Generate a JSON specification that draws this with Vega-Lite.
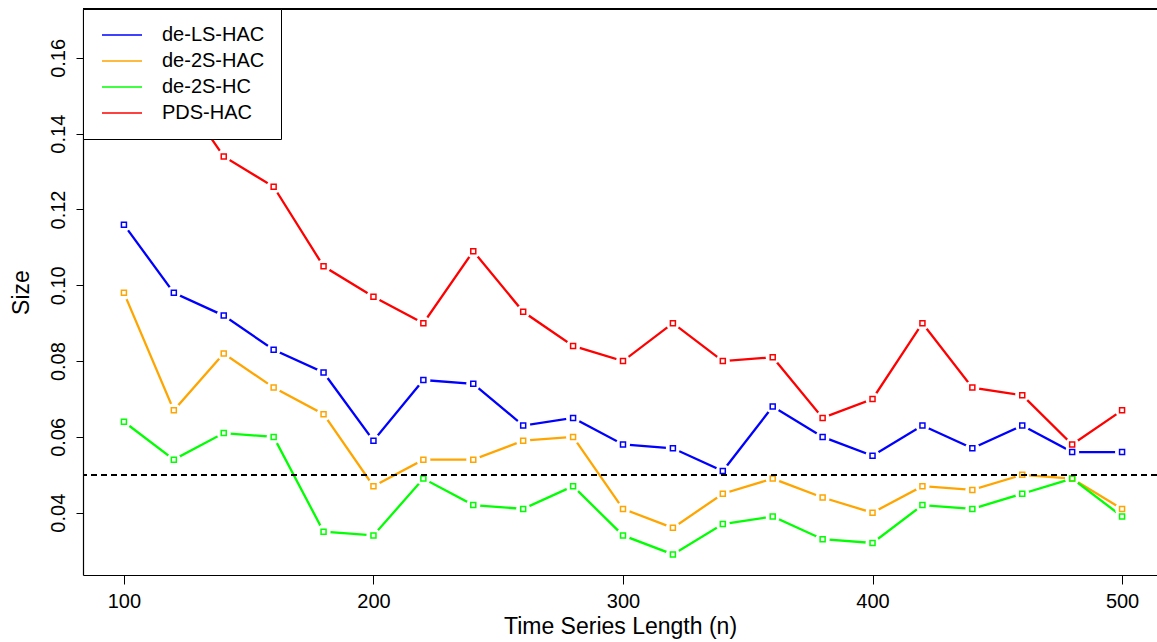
{
  "$schema": "https://vega.github.io/schema/vega-lite/v6.json",
  "autosize": "none",
  "width": 1074,
  "height": 566,
  "padding": {"left": 83, "top": 9, "right": 0, "bottom": 67},
  "background": "white",
  "config": {
    "font": "Liberation Sans",
    "view": {"stroke": null},
    "axis": {"grid": false, "domain": true, "domainColor": "black", "domainWidth": 1.2, "tickColor": "black", "labelColor": "black", "titleColor": "black", "labelFont": "Liberation Sans", "titleFont": "Liberation Sans", "titleFontWeight": "normal"}
  },
  "data": {
    "values": [
      {"n": 100, "method": "de-LS-HAC", "size": 0.116},
      {"n": 120, "method": "de-LS-HAC", "size": 0.098},
      {"n": 140, "method": "de-LS-HAC", "size": 0.092},
      {"n": 160, "method": "de-LS-HAC", "size": 0.083},
      {"n": 180, "method": "de-LS-HAC", "size": 0.077},
      {"n": 200, "method": "de-LS-HAC", "size": 0.059},
      {"n": 220, "method": "de-LS-HAC", "size": 0.075},
      {"n": 240, "method": "de-LS-HAC", "size": 0.074},
      {"n": 260, "method": "de-LS-HAC", "size": 0.063},
      {"n": 280, "method": "de-LS-HAC", "size": 0.065},
      {"n": 300, "method": "de-LS-HAC", "size": 0.058},
      {"n": 320, "method": "de-LS-HAC", "size": 0.057},
      {"n": 340, "method": "de-LS-HAC", "size": 0.051},
      {"n": 360, "method": "de-LS-HAC", "size": 0.068},
      {"n": 380, "method": "de-LS-HAC", "size": 0.060},
      {"n": 400, "method": "de-LS-HAC", "size": 0.055},
      {"n": 420, "method": "de-LS-HAC", "size": 0.063},
      {"n": 440, "method": "de-LS-HAC", "size": 0.057},
      {"n": 460, "method": "de-LS-HAC", "size": 0.063},
      {"n": 480, "method": "de-LS-HAC", "size": 0.056},
      {"n": 500, "method": "de-LS-HAC", "size": 0.056},
      {"n": 100, "method": "de-2S-HAC", "size": 0.098},
      {"n": 120, "method": "de-2S-HAC", "size": 0.067},
      {"n": 140, "method": "de-2S-HAC", "size": 0.082},
      {"n": 160, "method": "de-2S-HAC", "size": 0.073},
      {"n": 180, "method": "de-2S-HAC", "size": 0.066},
      {"n": 200, "method": "de-2S-HAC", "size": 0.047},
      {"n": 220, "method": "de-2S-HAC", "size": 0.054},
      {"n": 240, "method": "de-2S-HAC", "size": 0.054},
      {"n": 260, "method": "de-2S-HAC", "size": 0.059},
      {"n": 280, "method": "de-2S-HAC", "size": 0.060},
      {"n": 300, "method": "de-2S-HAC", "size": 0.041},
      {"n": 320, "method": "de-2S-HAC", "size": 0.036},
      {"n": 340, "method": "de-2S-HAC", "size": 0.045},
      {"n": 360, "method": "de-2S-HAC", "size": 0.049},
      {"n": 380, "method": "de-2S-HAC", "size": 0.044},
      {"n": 400, "method": "de-2S-HAC", "size": 0.040},
      {"n": 420, "method": "de-2S-HAC", "size": 0.047},
      {"n": 440, "method": "de-2S-HAC", "size": 0.046},
      {"n": 460, "method": "de-2S-HAC", "size": 0.050},
      {"n": 480, "method": "de-2S-HAC", "size": 0.049},
      {"n": 500, "method": "de-2S-HAC", "size": 0.041},
      {"n": 100, "method": "de-2S-HC", "size": 0.064},
      {"n": 120, "method": "de-2S-HC", "size": 0.054},
      {"n": 140, "method": "de-2S-HC", "size": 0.061},
      {"n": 160, "method": "de-2S-HC", "size": 0.060},
      {"n": 180, "method": "de-2S-HC", "size": 0.035},
      {"n": 200, "method": "de-2S-HC", "size": 0.034},
      {"n": 220, "method": "de-2S-HC", "size": 0.049},
      {"n": 240, "method": "de-2S-HC", "size": 0.042},
      {"n": 260, "method": "de-2S-HC", "size": 0.041},
      {"n": 280, "method": "de-2S-HC", "size": 0.047},
      {"n": 300, "method": "de-2S-HC", "size": 0.034},
      {"n": 320, "method": "de-2S-HC", "size": 0.029},
      {"n": 340, "method": "de-2S-HC", "size": 0.037},
      {"n": 360, "method": "de-2S-HC", "size": 0.039},
      {"n": 380, "method": "de-2S-HC", "size": 0.033},
      {"n": 400, "method": "de-2S-HC", "size": 0.032},
      {"n": 420, "method": "de-2S-HC", "size": 0.042},
      {"n": 440, "method": "de-2S-HC", "size": 0.041},
      {"n": 460, "method": "de-2S-HC", "size": 0.045},
      {"n": 480, "method": "de-2S-HC", "size": 0.049},
      {"n": 500, "method": "de-2S-HC", "size": 0.039},
      {"n": 100, "method": "PDS-HAC", "size": 0.167},
      {"n": 120, "method": "PDS-HAC", "size": 0.153},
      {"n": 140, "method": "PDS-HAC", "size": 0.134},
      {"n": 160, "method": "PDS-HAC", "size": 0.126},
      {"n": 180, "method": "PDS-HAC", "size": 0.105},
      {"n": 200, "method": "PDS-HAC", "size": 0.097},
      {"n": 220, "method": "PDS-HAC", "size": 0.090},
      {"n": 240, "method": "PDS-HAC", "size": 0.109},
      {"n": 260, "method": "PDS-HAC", "size": 0.093},
      {"n": 280, "method": "PDS-HAC", "size": 0.084},
      {"n": 300, "method": "PDS-HAC", "size": 0.080},
      {"n": 320, "method": "PDS-HAC", "size": 0.090},
      {"n": 340, "method": "PDS-HAC", "size": 0.080},
      {"n": 360, "method": "PDS-HAC", "size": 0.081},
      {"n": 380, "method": "PDS-HAC", "size": 0.065},
      {"n": 400, "method": "PDS-HAC", "size": 0.070},
      {"n": 420, "method": "PDS-HAC", "size": 0.090},
      {"n": 440, "method": "PDS-HAC", "size": 0.073},
      {"n": 460, "method": "PDS-HAC", "size": 0.071},
      {"n": 480, "method": "PDS-HAC", "size": 0.058},
      {"n": 500, "method": "PDS-HAC", "size": 0.067}
    ]
  },
  "layer": [
    {
      "mark": {"type": "line", "strokeWidth": 2.3, "clip": true},
      "encoding": {
        "x": {
          "field": "n", "type": "quantitative",
          "scale": {"domain": [83.6, 514.0], "nice": false, "zero": false},
          "axis": {"values": [100, 200, 300, 400, 500], "title": "Time Series Length (n)", "labelFontSize": 20, "titleFontSize": 23, "tickSize": 9, "labelPadding": 7, "titlePadding": 4, "labelFlush": false}
        },
        "y": {
          "field": "size", "type": "quantitative",
          "scale": {"domain": [0.02356, 0.1729], "nice": false, "zero": false},
          "axis": {"values": [0.04, 0.06, 0.08, 0.10, 0.12, 0.14, 0.16], "format": ".2f", "title": "Size", "labelFontSize": 20, "titleFontSize": 23, "tickSize": 7, "labelAngle": 270, "labelAlign": "center", "labelBaseline": "alphabetic", "labelPadding": 12, "titlePadding": 15, "labelFlush": false}
        },
        "color": {
          "field": "method", "type": "nominal",
          "scale": {"domain": ["de-LS-HAC", "de-2S-HAC", "de-2S-HC", "PDS-HAC"], "range": ["#0000ff", "#ffa500", "#00ff00", "#ff0000"]},
          "legend": {"title": null, "orient": "top-left", "offset": 0, "fillColor": "white", "strokeColor": "black", "padding": 16, "labelFontSize": 20, "labelColor": "black", "symbolType": "M-2.5,0H2.5", "symbolSize": 256, "symbolStrokeWidth": 1.5, "rowPadding": 6, "symbolOffset": 13, "labelOffset": 30}
        }
      }
    },
    {
      "mark": {"type": "point", "shape": "circle", "filled": true, "color": "white", "opacity": 1, "size": 200, "clip": true},
      "encoding": {
        "x": {"field": "n", "type": "quantitative"},
        "y": {"field": "size", "type": "quantitative"}
      }
    },
    {
      "mark": {"type": "point", "shape": "square", "filled": false, "size": 25, "strokeWidth": 1.5, "opacity": 1, "clip": true},
      "encoding": {
        "x": {"field": "n", "type": "quantitative"},
        "y": {"field": "size", "type": "quantitative"},
        "color": {"field": "method", "type": "nominal"}
      }
    },
    {
      "mark": {"type": "rule", "color": "black", "strokeWidth": 1.2, "strokeDash": [6, 4]},
      "encoding": {"y": {"datum": 0.05}}
    },
    {
      "mark": {"type": "rule", "color": "black", "strokeWidth": 1.2},
      "encoding": {"y": {"datum": 0.1729}}
    }
  ]
}
